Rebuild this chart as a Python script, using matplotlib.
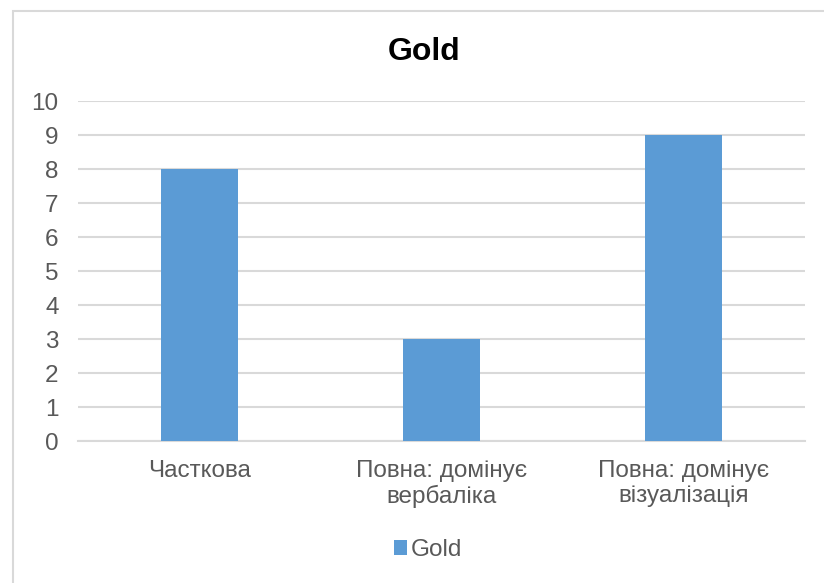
import matplotlib
matplotlib.use("Agg")
import matplotlib.pyplot as plt
from matplotlib.patches import Rectangle

# data
categories = ["Часткова", "Повна: домінує\nвербаліка", "Повна: домінує\nвізуалізація"]
values = [8, 3, 9]
series_name = "Gold"
y_ticks = list(range(0, 11))

bar_color = "#5B9BD5"
text_color = "#595959"
grid_color = "#D9D9D9"

plt.rcParams['font.family'] = ['Liberation Sans', 'DejaVu Sans']

fig = plt.figure(figsize=(8.24, 5.83), dpi=100)

# outer chart border (Excel style)
fig.patches.append(Rectangle((13 / 824, -0.05), 1.0, 1 - 11 / 583 + 0.05,
                             transform=fig.transFigure, fill=False,
                             edgecolor=grid_color, linewidth=1.5))

ax = fig.add_axes([78 / 824, 1 - 441 / 583, 727 / 824, 340 / 583])

x = list(range(len(categories)))
ax.bar(x, values, width=0.317, color=bar_color, label=series_name, zorder=3)

ax.set_xlim(-0.5, len(categories) - 0.5)
ax.set_ylim(0, 10)
ax.set_yticks(y_ticks)
ax.set_xticks(x)
ax.set_xticklabels(categories, fontsize=17.5, color=text_color, linespacing=1.15)
ax.tick_params(axis='y', labelsize=17.5, colors=text_color, length=0, pad=14)
ax.tick_params(axis='x', length=0, pad=14)
ax.grid(axis='y', color=grid_color, linewidth=1.5, zorder=0)

for side in ['top', 'right', 'left']:
    ax.spines[side].set_visible(False)
ax.spines['bottom'].set_color(grid_color)
ax.spines['bottom'].set_linewidth(1.5)

fig.text(424 / 824, 1 - 52 / 583, "Gold", ha='center', va='center',
         fontsize=23, fontweight='bold', color='black')

fig.legend(loc='center', bbox_to_anchor=(428 / 824, 1 - 550 / 583), frameon=False,
           fontsize=17.5, labelcolor=text_color, handlelength=0.55, handleheight=0.55,
           handletextpad=0.15)

fig.savefig("out.png", dpi=100)
